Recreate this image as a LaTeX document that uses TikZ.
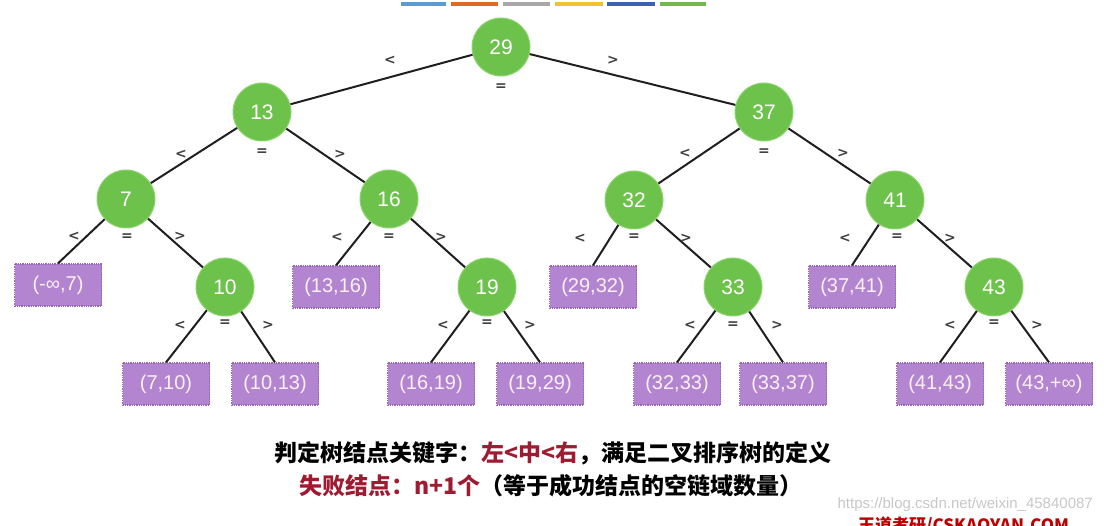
\documentclass[tikz,border=0pt]{standalone}
\usepackage{fontspec}
\setmainfont{Liberation Sans}[BoldFont={Liberation Sans Bold}]
\newfontfamily\cjk{Noto Sans CJK SC}
\newfontfamily\lblfont{DejaVu Sans}[BoldFont={DejaVu Sans Bold}]
\definecolor{ngreen}{HTML}{6CC24A}
\definecolor{ngreenb}{HTML}{8ED46E}
\definecolor{fpurple}{HTML}{B385D0}
\definecolor{fpurpleb}{HTML}{9466B3}
\definecolor{dred}{HTML}{9E1B32}
\definecolor{cA}{HTML}{5B9BD5}
\definecolor{cB}{HTML}{DD6B26}
\definecolor{cC}{HTML}{A8A8A8}
\definecolor{cD}{HTML}{F0C232}
\definecolor{cE}{HTML}{3A62B0}
\definecolor{cF}{HTML}{72B84C}
\tikzset{
  inner/.style={circle, fill=ngreen, draw=ngreenb, line width=1pt, minimum size=58pt, inner sep=0pt, text=white, font=\fontsize{21}{21}\selectfont},
  fail/.style={rectangle, fill=fpurple, draw=fpurpleb, densely dotted, line width=1.3pt, minimum width=87pt, minimum height=42pt, inner sep=0pt, text=white!94!purple, font=\fontsize{20}{20}\selectfont},
  edge/.style={line width=2pt, draw=black!88},
  lbl/.style={font=\lblfont\bfseries\fontsize{14}{14}\selectfont, text=black!75, inner sep=0pt},
  bar/.style={line width=4pt},
  cap1/.style={font=\cjk\bfseries\fontsize{23}{23}\selectfont, inner sep=0pt, anchor=base},
}
\begin{document}
\begin{tikzpicture}[x=1pt,y=-1pt]
\useasboundingbox (0,0) rectangle (1104,526);
\clip (0,0) rectangle (1104,526);
% color bars
\draw[bar, cA] (401,4.5) -- (446,4.5);
\draw[bar, cB] (451,4.5) -- (498,4.5);
\draw[bar, cC] (503,4.5) -- (550,4.5);
\draw[bar, cD] (555,4.5) -- (603,4.5);
\draw[bar, cE] (607,4.5) -- (655,4.5);
\draw[bar, cF] (660,4.5) -- (706,4.5);
% internal nodes
\node[inner] (n29) at (501,47) {29};
\node[inner] (n13) at (262,112) {13};
\node[inner] (n37) at (764,112) {37};
\node[inner] (n7) at (126,199) {7};
\node[inner] (n16) at (389,199) {16};
\node[inner] (n32) at (634,200) {32};
\node[inner] (n41) at (895,200) {41};
\node[inner] (n10) at (225,287) {10};
\node[inner] (n19) at (487,287) {19};
\node[inner] (n33) at (733,287) {33};
\node[inner] (n43) at (994,287) {43};
% failure nodes
\node[fail] (f1) at (58,285) {(-∞,7)};
\node[fail] (f4) at (336,287) {(13,16)};
\node[fail] (f7) at (593,287) {(29,32)};
\node[fail] (f10) at (852,287) {(37,41)};
\node[fail] (f2) at (166,384) {(7,10)};
\node[fail] (f3) at (275,384) {(10,13)};
\node[fail] (f5) at (431,384) {(16,19)};
\node[fail] (f6) at (540,384) {(19,29)};
\node[fail] (f8) at (677,384) {(32,33)};
\node[fail] (f9) at (783,384) {(33,37)};
\node[fail] (f11) at (940,384) {(41,43)};
\node[fail] (f12) at (1049,384) {(43,+∞)};
% edges
\draw[edge] (n29) -- (n13);
\draw[edge] (n29) -- (n37);
\draw[edge] (n13) -- (n7);
\draw[edge] (n13) -- (n16);
\draw[edge] (n37) -- (n32);
\draw[edge] (n37) -- (n41);
\draw[edge] (n7) -- (f1.north);
\draw[edge] (n7) -- (n10);
\draw[edge] (n10) -- (f2.north);
\draw[edge] (n10) -- (f3.north);
\draw[edge] (n16) -- (f4.north);
\draw[edge] (n16) -- (n19);
\draw[edge] (n19) -- (f5.north);
\draw[edge] (n19) -- (f6.north);
\draw[edge] (n32) -- (f7.north);
\draw[edge] (n32) -- (n33);
\draw[edge] (n33) -- (f8.north);
\draw[edge] (n33) -- (f9.north);
\draw[edge] (n41) -- (f10.north);
\draw[edge] (n41) -- (n43);
\draw[edge] (n43) -- (f11.north);
\draw[edge] (n43) -- (f12.north);
% comparison labels
\node[lbl] (a1) at (390,60) {<};  \node[lbl] (a2) at (501,87) {=};  \node[lbl] (a3) at (613,60) {>};
\node[lbl] (b1) at (181,154) {<}; \node[lbl] (b2) at (262,152) {=}; \node[lbl] (b3) at (340,154) {>};
\node[lbl] (c1) at (685,153) {<}; \node[lbl] (c2) at (764,152) {=}; \node[lbl] (c3) at (843,153) {>};
\node[lbl] (d1) at (74,236) {<};  \node[lbl] (d2) at (127,237) {=}; \node[lbl] (d3) at (180,236) {>};
\node[lbl] (e1) at (337,237) {<}; \node[lbl] (e2) at (389,237) {=}; \node[lbl] (e3) at (441,237) {>};
\node[lbl] (g1) at (580,238) {<}; \node[lbl] (g2) at (634,237) {=}; \node[lbl] (g3) at (686,238) {>};
\node[lbl] (h1) at (845,238) {<}; \node[lbl] (h2) at (897,237) {=}; \node[lbl] (h3) at (950,238) {>};
\node[lbl] (i1) at (180,325) {<}; \node[lbl] (i2) at (225,323) {=}; \node[lbl] (i3) at (268,325) {>};
\node[lbl] (j1) at (443,325) {<}; \node[lbl] (j2) at (487,323) {=}; \node[lbl] (j3) at (530,325) {>};
\node[lbl] (k1) at (690,325) {<}; \node[lbl] (k2) at (733,325) {=}; \node[lbl] (k3) at (777,325) {>};
\node[lbl] (m1) at (950,325) {<}; \node[lbl] (m2) at (994,323) {=}; \node[lbl] (m3) at (1037,325) {>};
% captions
\node[cap1] (t1) at (553,462) {判定树结点关键字：\textcolor{dred}{左<中<右}，满足二叉排序树的定义};
\node[cap1] (t2) at (551,495) {\textcolor{dred}{失败结点：n+1个}（等于成功结点的空链域数量）};
% watermarks
\node[font=\fontsize{15}{15}\selectfont, text=black!22, anchor=base east, inner sep=0pt] (w1) at (1093,509) {https://blog.csdn.net/weixin\_45840087};
\node[font=\cjk\bfseries\fontsize{17}{17}\selectfont, text=red!75!black, anchor=base west, inner sep=0pt] (w2) at (858,532) {王道考研/CSKAOYAN.COM};
\end{tikzpicture}
\end{document}
